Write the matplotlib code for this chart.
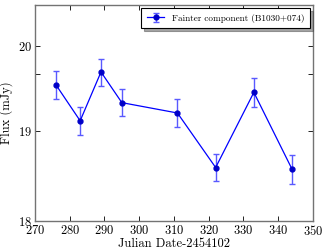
import matplotlib
matplotlib.use("Agg")
import matplotlib.pyplot as plt
from matplotlib.ticker import FixedLocator, ScalarFormatter, NullFormatter

# data
jd = [276, 283, 289, 295, 311, 322, 333, 344]
flux = [19.54, 19.12, 19.69, 19.33, 19.21, 18.59, 19.45, 18.57]
flux_err = [0.165, 0.165, 0.16, 0.16, 0.16, 0.15, 0.165, 0.16]

x_ticks = [270, 280, 290, 300, 310, 320, 330, 340, 350]
y_ticks = [18, 19, 20]

plt.rcParams.update({
    "font.family": "serif",
    "font.serif": ["cmr10"],
    "mathtext.fontset": "cm",
    "axes.unicode_minus": False,
    "axes.formatter.use_mathtext": True,
    "font.size": 9,
})

fig = plt.figure(figsize=(3.27, 2.49), dpi=100)
ax = fig.add_axes([0.107, 0.112, 0.85, 0.868])

ax.errorbar(jd, flux, yerr=flux_err, fmt="-o", color="blue", ms=3.5,
            mfc="#0000c8", mec="#0000c8",
            lw=0.9, ecolor=(0.35, 0.35, 1.0), elinewidth=1.0, capsize=2.5,
            capthick=1.0, label="Fainter component (B1030+074)")

ax.set_yscale("log")
ax.set_xlim(270, 350)
ax.set_ylim(18, 20.5)
ax.set_xticks(x_ticks)
ax.yaxis.set_major_locator(FixedLocator(y_ticks))
ax.yaxis.set_major_formatter(ScalarFormatter())
ax.yaxis.set_minor_locator(FixedLocator([19.67]))
ax.yaxis.set_minor_formatter(NullFormatter())

ax.tick_params(which="both", direction="in", top=True, right=True,
               length=3.5, width=0.6, labelsize=9, pad=2)
for sp in ax.spines.values():
    sp.set_color("0.45")
    sp.set_linewidth(1.0)

ax.set_xlabel("Julian Date-2454102", fontsize=9, labelpad=0)
ax.set_ylabel("Flux (mJy)", fontsize=9, labelpad=4)

leg = ax.legend(loc="upper right", fontsize=6.6, fancybox=False, shadow=True,
                borderaxespad=0.35, handlelength=1.9, borderpad=0.6)
leg.get_frame().set_edgecolor("black")
leg.get_frame().set_linewidth(0.8)

fig.savefig("out.png", dpi=100)
